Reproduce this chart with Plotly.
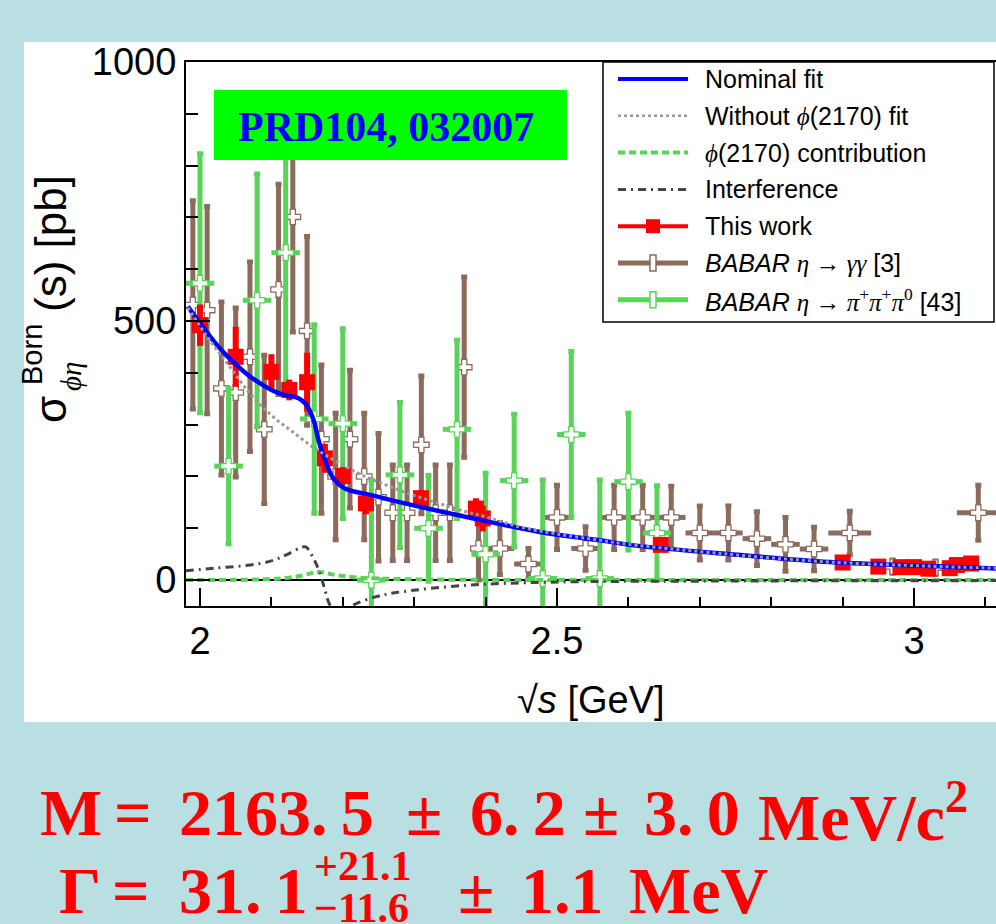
import plotly.graph_objects as go

# ---------------- data ----------------
# This work (BESIII)
bes_x = [2.000, 2.050, 2.100, 2.125, 2.150, 2.175, 2.200, 2.2324, 2.3094, 2.3864, 2.3960,
         2.6454, 2.900, 2.950, 2.981, 3.000, 3.020, 3.050, 3.060, 3.080]
bes_y = [492, 431, 402, 367, 382, 235, 201, 148, 158, 138, 119,
         68, 34, 26, 25, 25, 22, 23, 29, 32]
bes_err = [40, 58, 34, 20, 57, 28, 17, 21, 16, 20, 25,
           13, 10, 8, 8, 8, 8, 8, 8, 8]

# BABAR eta -> gamma gamma
gg_x = [1.99, 2.01, 2.03, 2.05, 2.07, 2.09, 2.11, 2.13, 2.15, 2.17, 2.19, 2.21, 2.23, 2.25,
        2.27, 2.29, 2.31, 2.33, 2.35, 2.37, 2.39, 2.42, 2.46, 2.50, 2.54, 2.58, 2.62, 2.66,
        2.70, 2.74, 2.78, 2.82, 2.86, 2.91, 2.97, 3.03, 3.09]
gg_y = [531, 521, 370, 362, 431, 291, 561, 701, 481, 272, 200, 272, 200, 160,
        130, 130, 261, 130, 130, 411, 61, 61, 31, 121, 61, 121, 121, 121,
        91, 91, 80, 69, 60, 91, 26, 24, 130]
gg_err = [201, 200, 167, 163, 183, 143, 203, 222, 182, 143, 122, 133, 122, 123,
          92, 92, 133, 92, 92, 174, 61, 50, 30, 62, 42, 62, 62, 60,
          52, 52, 52, 52, 42, 42, 13, 13, 53]
gg_xerr = [0.01] * 21 + [0.02] * 12 + [0.03] * 4

# BABAR eta -> pi pi pi0
ppp_x = [2.00, 2.04, 2.08, 2.12, 2.16, 2.20, 2.24, 2.28, 2.32, 2.36, 2.40, 2.44, 2.48,
         2.52, 2.56, 2.60, 2.64]
ppp_y = [573, 220, 540, 632, 311, 302, 0, 203, 100, 291, 50, 192, 3,
         281, 3, 190, 91]
ppp_err = [250, 150, 244, 250, 182, 183, 193, 140, 102, 172, 156, 128, 190,
           160, 190, 132, 91]
ppp_xerr = [0.02] * 17

# Nominal fit
fit_x = [1.983, 2.007, 2.026, 2.049, 2.072, 2.100, 2.119, 2.138, 2.149, 2.159, 2.166,
         2.175, 2.187, 2.203, 2.240, 2.287, 2.383, 2.476, 2.560, 2.602, 2.742, 2.882,
         3.022, 3.115]
fit_y = [528, 483, 450, 418, 391, 367, 357, 351, 338, 309, 270,
         232, 196, 177, 164, 148, 119, 93, 77, 68, 50, 35,
         27, 22.6]

# Without phi(2170) fit
nophi_x = [1.983, 2.010, 2.040, 2.070, 2.100, 2.130, 2.160, 2.190, 2.225, 2.260, 2.290,
           2.330, 2.370, 2.400, 2.450, 2.500, 2.560, 2.600, 2.740, 2.880, 3.020, 3.115]
nophi_y = [526, 470, 415, 360, 318, 286, 255, 230, 204, 184, 168,
           150, 133, 122, 102, 89, 77, 69, 50, 35, 27, 23]

# phi(2170) contribution
phi_x = [1.98, 2.05, 2.10, 2.12, 2.14, 2.155, 2.166, 2.175, 2.185, 2.20, 2.22, 2.25,
         2.30, 2.40, 3.115]
phi_y = [0, 0.5, 2, 4, 8, 13, 16, 14, 11, 8, 5, 3,
         1.5, 0.5, 0]

# Interference
int_x = [1.98, 2.02, 2.07, 2.10, 2.12, 2.14, 2.148, 2.159, 2.168, 2.175, 2.180, 2.19,
         2.20, 2.21, 2.215, 2.247, 2.275, 2.374, 2.49, 2.70, 3.115]
int_y = [18, 23, 29, 37, 48, 62, 64, 42, 13, -19, -42, -65,
         -68, -55, -48, -32, -24, -10, -4, -2, -1]

PHI = "<span style=\"font-family:Liberation Serif\"><i>ϕ</i></span>"
legend_labels = [
    "Nominal fit",
    "Without " + PHI + "(2170) fit",
    PHI + "(2170) contribution",
    "Interference",
    "This work",
    "<i>BABAR</i> <span style=\"font-family:Liberation Serif\"><i>η</i> → <i>γγ</i></span> [3]",
    "<i>BABAR</i> <span style=\"font-family:Liberation Serif\"><i>η</i> → <i>π</i><sup>+</sup><i>π</i><sup>+</sup><i>π</i><sup>0</sup></span> [43]",
]

# ---------------- styling ----------------
BROWN = "#8c6a5c"
GREEN = "#58d458"
RED = "#ff0000"
BLUE = "#0000ff"
GRAY = "#9a9a9a"
DARK = "#444444"
BG = "#b9dfe3"
SANS = "Liberation Sans, Arial, Helvetica, sans-serif"
SERIF = "Liberation Serif, Times New Roman, serif"
GDASH = "7px,4px"
IDASH = "8px,5px,2px,5px"
TS = "\u2009"  # thin space

W, H = 996, 924
L, R, T, B = 186, 0, 62, 318
PW = W - L - R
PH = H - T - B


def px(x):
    return (x - L) / PW


def py(y):
    return (H - B - y) / PH


fig = go.Figure()

fig.add_trace(go.Scatter(
    x=gg_x, y=gg_y, mode="markers", showlegend=False,
    error_y=dict(type="data", array=gg_err, color=BROWN, thickness=5, width=3),
    error_x=dict(type="data", array=gg_xerr, color=BROWN, thickness=5, width=0),
    marker=dict(symbol="cross", size=13, color="white", line=dict(color=BROWN, width=1.3)),
))
fig.add_trace(go.Scatter(
    x=ppp_x, y=ppp_y, mode="markers", showlegend=False,
    error_y=dict(type="data", array=ppp_err, color=GREEN, thickness=5, width=3),
    error_x=dict(type="data", array=ppp_xerr, color=GREEN, thickness=5, width=0),
    marker=dict(symbol="cross", size=13, color="white", line=dict(color=GREEN, width=1.3)),
))
fig.add_trace(go.Scatter(
    x=bes_x, y=bes_y, mode="markers", showlegend=False,
    error_y=dict(type="data", array=bes_err, color=RED, thickness=6, width=0),
    marker=dict(symbol="square", size=16, color=RED),
))
fig.add_trace(go.Scatter(x=phi_x, y=phi_y, mode="lines", showlegend=False,
                         line=dict(color=GREEN, width=4, dash=GDASH, shape="spline")))
fig.add_trace(go.Scatter(x=int_x, y=int_y, mode="lines", showlegend=False,
                         line=dict(color=DARK, width=3, dash=IDASH, shape="spline")))
fig.add_trace(go.Scatter(x=fit_x, y=fit_y, mode="lines", showlegend=False,
                         line=dict(color=BLUE, width=4.5, shape="spline")))
fig.add_trace(go.Scatter(x=nophi_x, y=nophi_y, mode="lines", showlegend=False,
                         line=dict(color=GRAY, width=3, dash="dot", shape="spline")))

shapes = []
annotations = []

# white panel
shapes.append(dict(type="rect", xref="paper", yref="paper", layer="below",
                   x0=px(24), x1=1.0, y0=py(722), y1=py(42),
                   fillcolor="white", line=dict(width=0)))

# PRD label box
shapes.append(dict(type="rect", xref="paper", yref="paper", layer="above",
                   x0=px(214), x1=px(567), y0=py(160), y1=py(90),
                   fillcolor="#00ff00", line=dict(width=0)))
annotations.append(dict(xref="paper", yref="paper", x=px(386), y=py(127),
                        text="<b>PRD104, 032007</b>", showarrow=False,
                        font=dict(family=SERIF, size=42, color="#0000ff"),
                        xanchor="center", yanchor="middle"))

# legend box
shapes.append(dict(type="rect", xref="paper", yref="paper", layer="above",
                   x0=px(603), x1=px(994), y0=py(322), y1=py(62),
                   fillcolor="white", line=dict(color="black", width=1.5)))
row_y = [79 + i * 36.8 for i in range(7)]
lx0, lx1, lxc = 618, 688, 653
line_styles = [
    dict(color=BLUE, width=4),
    dict(color=GRAY, width=2.5, dash="dot"),
    dict(color=GREEN, width=4, dash=GDASH),
    dict(color=DARK, width=3, dash=IDASH),
    dict(color=RED, width=4),
    dict(color=BROWN, width=5),
    dict(color=GREEN, width=5),
]
for i, (ry, ls) in enumerate(zip(row_y, line_styles)):
    shapes.append(dict(type="line", xref="paper", yref="paper", layer="above",
                       x0=px(lx0), x1=px(lx1), y0=py(ry), y1=py(ry), line=ls))
    annotations.append(dict(xref="paper", yref="paper", x=px(703), y=py(ry),
                            text=legend_labels[i], showarrow=False,
                            font=dict(family=SANS, size=25, color="black"),
                            xanchor="left", yanchor="middle"))
# legend markers
shapes.append(dict(type="rect", xref="paper", yref="paper", layer="above",
                   x0=px(lxc - 7), x1=px(lxc + 7), y0=py(row_y[4] + 7), y1=py(row_y[4] - 7),
                   fillcolor=RED, line=dict(width=0)))
for ry, col in ((row_y[5], BROWN), (row_y[6], GREEN)):
    shapes.append(dict(type="rect", xref="paper", yref="paper", layer="above",
                       x0=px(lxc - 3), x1=px(lxc + 3), y0=py(ry + 8), y1=py(ry - 8),
                       fillcolor="white", line=dict(color=col, width=1.5)))

# y-axis title pieces (rotated)
annotations += [
    dict(xref="paper", yref="paper", x=px(50), y=py(410), text="σ", showarrow=False,
         textangle=-90, font=dict(family=SANS, size=44, color="black"),
         xanchor="center", yanchor="middle"),
    dict(xref="paper", yref="paper", x=px(32), y=py(355), text="Born", showarrow=False,
         textangle=-90, font=dict(family=SANS, size=29, color="black"),
         xanchor="center", yanchor="middle"),
    dict(xref="paper", yref="paper", x=px(71), y=py(377), text="<i>ϕη</i>", showarrow=False,
         textangle=-90, font=dict(family=SERIF, size=29, color="black"),
         xanchor="center", yanchor="middle"),
    dict(xref="paper", yref="paper", x=px(50), y=py(244), text="(s) [pb]", showarrow=False,
         textangle=-90, font=dict(family=SANS, size=44, color="black"),
         xanchor="center", yanchor="middle"),
]

# x-axis title
annotations.append(dict(xref="paper", yref="paper", x=px(591), y=py(700),
                        text="√<i>s</i> [GeV]", showarrow=False,
                        font=dict(family=SANS, size=38, color="black"),
                        xanchor="center", yanchor="middle"))

# result text
RF = dict(family=SERIF, size=66, color=RED)
RFS = dict(family=SERIF, size=42, color=RED)


def rtxt(x, y, t, font=RF, anchor="left", h=None):
    a = dict(xref="paper", yref="paper", x=px(x), y=py(y),
             text="<b>" + t + "</b>", showarrow=False, font=font,
             xanchor=anchor, yanchor="middle")
    if h is not None:
        a["height"] = h
    annotations.append(a)


rtxt(38, 812, "M")
rtxt(133, 812, "=", anchor="center")
rtxt(177, 812, "2163." + TS + "5")
rtxt(424, 812, "±", anchor="center")
rtxt(468, 812, "6." + TS + "2")
rtxt(601, 812, "±", anchor="center")
rtxt(642, 812, "3." + TS + "0")
rtxt(756, 812, "MeV/c<sup>2</sup>")
rtxt(57, 890, "Γ", h=64)
rtxt(131, 890, "=", anchor="center", h=64)
rtxt(177, 890, "31." + TS + "1", h=64)
rtxt(312, 866, "+21.1", font=RFS)
rtxt(312, 908, "−11.6", font=RFS)
rtxt(476, 890, "±", anchor="center", h=64)
rtxt(519, 890, "1.1", h=64)
rtxt(627, 890, "MeV", h=64)

fig.update_layout(
    width=W, height=H,
    margin=dict(l=L, r=R, t=T, b=B, pad=0),
    paper_bgcolor=BG, plot_bgcolor="white",
    showlegend=False,
    shapes=shapes, annotations=annotations,
    font=dict(family=SANS, size=38, color="black"),
)
fig.update_xaxes(
    range=[1.9804, 3.1148], showgrid=False, zeroline=False,
    showline=True, linecolor="black", linewidth=2, mirror=True,
    ticks="inside", ticklen=18, tickwidth=1.5, tickcolor="black",
    tick0=2, dtick=0.5,
    tickfont=dict(family=SANS, size=38, color="black"),
    minor=dict(dtick=0.1, tick0=2, ticks="inside", ticklen=9, tickwidth=1.5, tickcolor="black"),
)
fig.update_yaxes(
    range=[-50, 1000], showgrid=False,
    zeroline=True, zerolinecolor="black", zerolinewidth=1.5,
    showline=True, linecolor="black", linewidth=2,
    ticks="inside", ticklen=24, tickwidth=1.5, tickcolor="black",
    tick0=0, dtick=500,
    tickfont=dict(family=SANS, size=38, color="black"),
    minor=dict(dtick=100, tick0=0, ticks="inside", ticklen=12, tickwidth=1.5, tickcolor="black"),
)

fig.write_html("out.html", config={"displayModeBar": False},
               post_script="document.body.style.margin='0px';document.body.style.overflow='hidden';")
